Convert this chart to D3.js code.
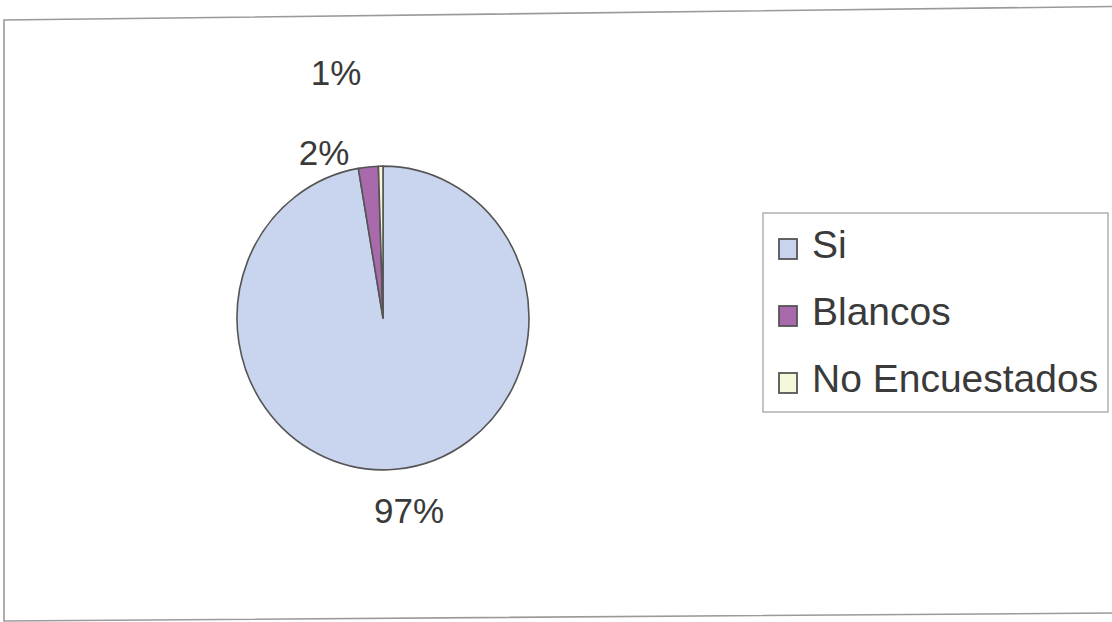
<!DOCTYPE html>
<html><head><meta charset="utf-8">
<script src="https://cdn.jsdelivr.net/npm/d3@7"></script>
<style>html,body{margin:0;padding:0;background:#fff;}svg{display:block;}</style>
</head><body>
<svg id="chart" width="1112" height="622"></svg>
<script>
const categories = ["Si", "Blancos", "No Encuestados"];
const values = [97.3, 2.2, 0.5];
const pctLabels = ["97%", "2%", "1%"];
const colors = ["#c9d5ef", "#a96aab", "#f6f8dc"];

const svg = d3.select("#chart");

// frame (scanned page, slightly skewed)
const framePath = d3.path();
framePath.moveTo(1114, 6.5); framePath.lineTo(4, 20); framePath.lineTo(4, 621); framePath.lineTo(1114, 613);
svg.append("path").attr("d", framePath.toString())
  .attr("fill", "none").attr("stroke", "#9a9a9a").attr("stroke-width", 1.6);

const cx = 383, cy = 318, r = 146;
const pie = d3.pie().sort(null).value(d => d)(values);
const arc = d3.arc().innerRadius(0).outerRadius(r);

const g = svg.append("g").attr("transform", `translate(${cx},${cy}) scale(1,1.04)`);
g.selectAll("path").data(pie).enter().append("path")
  .attr("d", arc)
  .attr("fill", (d, i) => colors[i])
  .attr("stroke", "#555")
  .attr("stroke-width", 1.6)
  .attr("stroke-linejoin", "round");

// data labels
const labelPos = [[409, 523], [324, 165], [336, 85]];
svg.selectAll("text.lbl").data(pctLabels).enter().append("text")
  .attr("class", "lbl")
  .attr("x", (d, i) => labelPos[i][0])
  .attr("y", (d, i) => labelPos[i][1])
  .attr("text-anchor", "middle")
  .attr("font-family", "Liberation Sans, Arial, sans-serif")
  .attr("font-size", 35)
  .attr("fill", "#3a3a3a")
  .text(d => d);

// legend
const lg = svg.append("g");
lg.append("rect").attr("x", 763).attr("y", 213).attr("width", 345).attr("height", 199)
  .attr("fill", "#fff").attr("stroke", "#aaa").attr("stroke-width", 1.4);
const rowY = d3.scalePoint().domain(categories).range([258, 392]);
const items = lg.selectAll("g.item").data(categories).enter().append("g").attr("class", "item")
  .attr("transform", d => `translate(0,${rowY(d)})`);
items.append("rect").attr("x", 779).attr("y", -19).attr("width", 18).attr("height", 20)
  .attr("fill", (d, i) => colors[i]).attr("stroke", "#555").attr("stroke-width", 1.8);
items.append("text").attr("x", 812).attr("y", 0)
  .attr("font-family", "Liberation Sans, Arial, sans-serif")
  .attr("font-size", 39)
  .attr("fill", "#3a3a3a")
  .text(d => d);
</script>
</body></html>
